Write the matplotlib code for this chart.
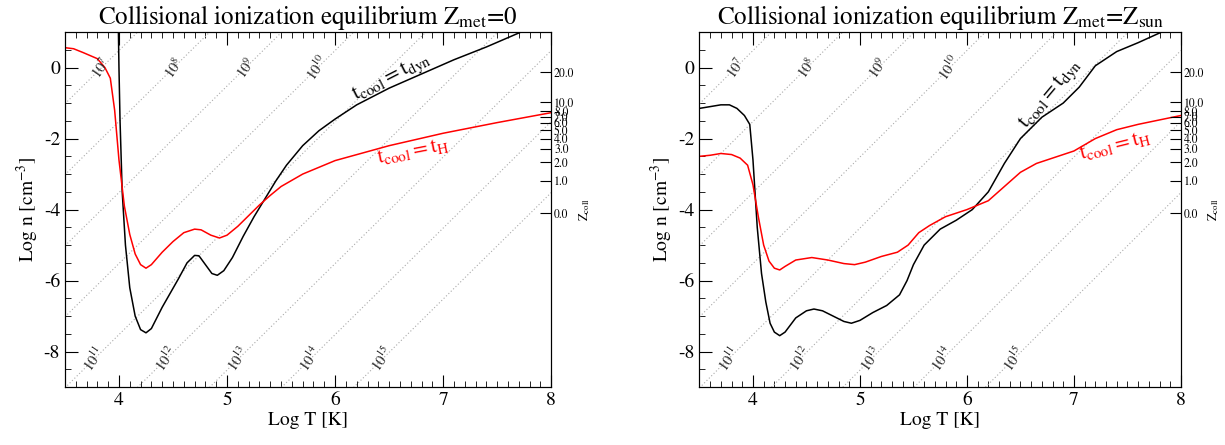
import numpy as np
import matplotlib
matplotlib.use('Agg')
import matplotlib.pyplot as plt
from matplotlib.ticker import MultipleLocator

plt.rcParams['font.family'] = ['STIXGeneral', 'DejaVu Serif']
plt.rcParams['mathtext.fontset'] = 'stix'
plt.rcParams['axes.unicode_minus'] = False

# --- data ---
# Z_met = 0
T0_dyn = [3.995, 4.0, 4.01, 4.03, 4.06, 4.1, 4.15, 4.2, 4.25, 4.3, 4.4, 4.55, 4.63,
          4.7, 4.74, 4.8, 4.86, 4.91, 4.97, 5.05, 5.15, 5.25, 5.35, 5.45, 5.55,
          5.7, 5.85, 6.0, 6.2, 6.5, 6.8, 7.1, 7.4, 7.72]
n0_dyn = [1.0, 0.0, -1.5, -3.5, -5.0, -6.2, -7.0, -7.38, -7.47, -7.35, -6.75, -5.95,
          -5.5, -5.29, -5.3, -5.55, -5.8, -5.85, -5.72, -5.35, -4.75, -4.2, -3.7,
          -3.2, -2.75, -2.2, -1.78, -1.45, -1.05, -0.58, -0.18, 0.22, 0.58, 1.0]
T0_H = [3.5, 3.58, 3.67, 3.8, 3.87, 3.92, 3.96, 4.0, 4.05, 4.1, 4.15, 4.2, 4.25,
        4.3, 4.4, 4.5, 4.6, 4.7, 4.76, 4.85, 4.93, 5.0, 5.1, 5.2, 5.3, 5.4, 5.5,
        5.7, 6.0, 6.5, 7.0, 7.5, 8.0]
n0_H = [0.56, 0.53, 0.42, 0.25, 0.0, -0.3, -1.2, -2.6, -3.9, -4.7, -5.25, -5.55,
        -5.65, -5.55, -5.2, -4.9, -4.65, -4.55, -4.57, -4.72, -4.8, -4.72, -4.47,
        -4.17, -3.87, -3.6, -3.35, -3.0, -2.62, -2.2, -1.85, -1.55, -1.27]

# Z_met = Z_sun
T1_dyn = [3.5, 3.6, 3.7, 3.78, 3.85, 3.92, 3.97, 4.0, 4.04, 4.08, 4.12, 4.16,
          4.2, 4.25, 4.3, 4.4, 4.5, 4.57, 4.65, 4.75, 4.85, 4.92, 5.0, 5.12,
          5.25, 5.37, 5.44, 5.5, 5.6, 5.75, 5.9, 6.05, 6.2, 6.35, 6.5, 6.7,
          6.9, 7.05, 7.2, 7.4, 7.6, 7.82]
n1_dyn = [-1.15, -1.1, -1.05, -1.05, -1.15, -1.35, -1.6, -2.6, -4.5, -5.8, -6.6,
          -7.2, -7.45, -7.55, -7.45, -7.05, -6.85, -6.8, -6.85, -7.0, -7.15, -7.2,
          -7.12, -6.9, -6.7, -6.4, -6.0, -5.55, -5.0, -4.55, -4.3, -4.0, -3.5,
          -2.7, -2.0, -1.4, -1.0, -0.55, 0.05, 0.45, 0.7, 1.0]
T1_H = [3.5, 3.6, 3.7, 3.8, 3.88, 3.95, 4.0, 4.05, 4.1, 4.15, 4.2, 4.25, 4.3,
        4.4, 4.55, 4.7, 4.85, 4.95, 5.05, 5.2, 5.35, 5.45, 5.55, 5.65, 5.8,
        6.0, 6.2, 6.35, 6.5, 6.65, 6.8, 7.0, 7.2, 7.4, 7.6, 8.0]
n1_H = [-2.5, -2.47, -2.42, -2.45, -2.55, -2.75, -3.3, -4.2, -5.0, -5.45, -5.65,
        -5.7, -5.6, -5.42, -5.35, -5.42, -5.52, -5.55, -5.48, -5.32, -5.2, -5.0,
        -4.65, -4.45, -4.2, -4.0, -3.75, -3.35, -2.95, -2.7, -2.55, -2.35, -2.0,
        -1.75, -1.6, -1.35]

# Jeans mass lines (dotted) and collapse redshift scale
jeans_exp = [6, 7, 8, 9, 10, 11, 12, 13, 14, 15]
jeans_top = [7, 8, 9, 10]
jeans_bot = [11, 12, 13, 14, 15]
z_ticks = [0.0, 1.0, 2.0, 3.0, 4.0, 5.0, 6.0, 7.0, 8.0, 10.0, 20.0]

panels = [
    dict(title=r'Collisional ionization equilibrium Z$_{\rm met}$=0',
         Td=T0_dyn, nd=n0_dyn, TH=T0_H, nH=n0_H,
         lab_dyn=(6.52, -0.3, 27), lab_H=(6.72, -2.35, 11)),
    dict(title=r'Collisional ionization equilibrium Z$_{\rm met}$=Z$_{\rm sun}$',
         Td=T1_dyn, nd=n1_dyn, TH=T1_H, nH=n1_H,
         lab_dyn=(6.78, -0.75, 50), lab_H=(7.38, -2.2, 14)),
]

fig = plt.figure(figsize=(12.25, 4.45), dpi=100)
boxes = [[0.053, 0.130, 0.397, 0.798], [0.571, 0.130, 0.393, 0.798]]

Tgrid = np.linspace(3.5, 8.0, 50)
for box, p in zip(boxes, panels):
    ax = fig.add_axes(box)
    ax.set_xlim(3.5, 8.0)
    ax.set_ylim(-9, 1)

    for m in jeans_exp:
        ax.plot(Tgrid, 3 * Tgrid - 2 * m + 2.48, ls=(0, (1, 2)),
                color='#aaaaaa', lw=0.8)
    for m in jeans_top:
        ax.text((0.0 + 2 * m - 2.48) / 3, 0.0, r'$10^{%d}$' % m, fontsize=10.5,
                rotation=55, ha='center', va='center', color='#222222')
    for m in jeans_bot:
        ax.text((-8.2 + 2 * m - 2.48) / 3, -8.2, r'$10^{%d}$' % m, fontsize=10.5,
                rotation=55, ha='center', va='center', color='#222222')

    ax.plot(p['Td'], p['nd'], color='black', lw=1.1)
    ax.plot(p['TH'], p['nH'], color='red', lw=1.1)
    x, y, r = p['lab_dyn']
    ax.text(x, y, r'$\rm t_{cool} = t_{dyn}$', fontsize=15.5, rotation=r,
            ha='center', va='center', color='black')
    x, y, r = p['lab_H']
    ax.text(x, y, r'$\rm t_{cool} = t_H$', fontsize=15.5, rotation=r,
            ha='center', va='center', color='red')

    ax.set_title(p['title'], fontsize=18, pad=4)
    ax.set_xlabel('Log T [K]', fontsize=14, labelpad=2)
    ax.set_ylabel(r'Log n [cm$^{-3}$]', fontsize=14, labelpad=2)
    ax.xaxis.set_major_locator(MultipleLocator(1))
    ax.xaxis.set_minor_locator(MultipleLocator(0.1))
    ax.yaxis.set_major_locator(MultipleLocator(2))
    ax.yaxis.set_minor_locator(MultipleLocator(0.5))
    ax.tick_params(which='both', direction='in', top=True, right=False,
                   labelsize=14)
    ax.tick_params(which='major', length=9)
    ax.tick_params(which='minor', length=4.5)

    ax2 = ax.twinx()
    ax2.set_ylim(-9, 1)
    ax2.set_yticks([3 * np.log10(1 + z) - 4.1 for z in z_ticks])
    ax2.set_yticklabels(['%.1f' % z for z in z_ticks])
    ax2.tick_params(direction='in', length=8, labelsize=8.5, pad=2)
    ax2.text(1.068, 0.50, r'Z$_{\rm coll}$', transform=ax.transAxes,
             rotation=90, fontsize=9, ha='center', va='center')

fig.savefig('out.png', dpi=100)
